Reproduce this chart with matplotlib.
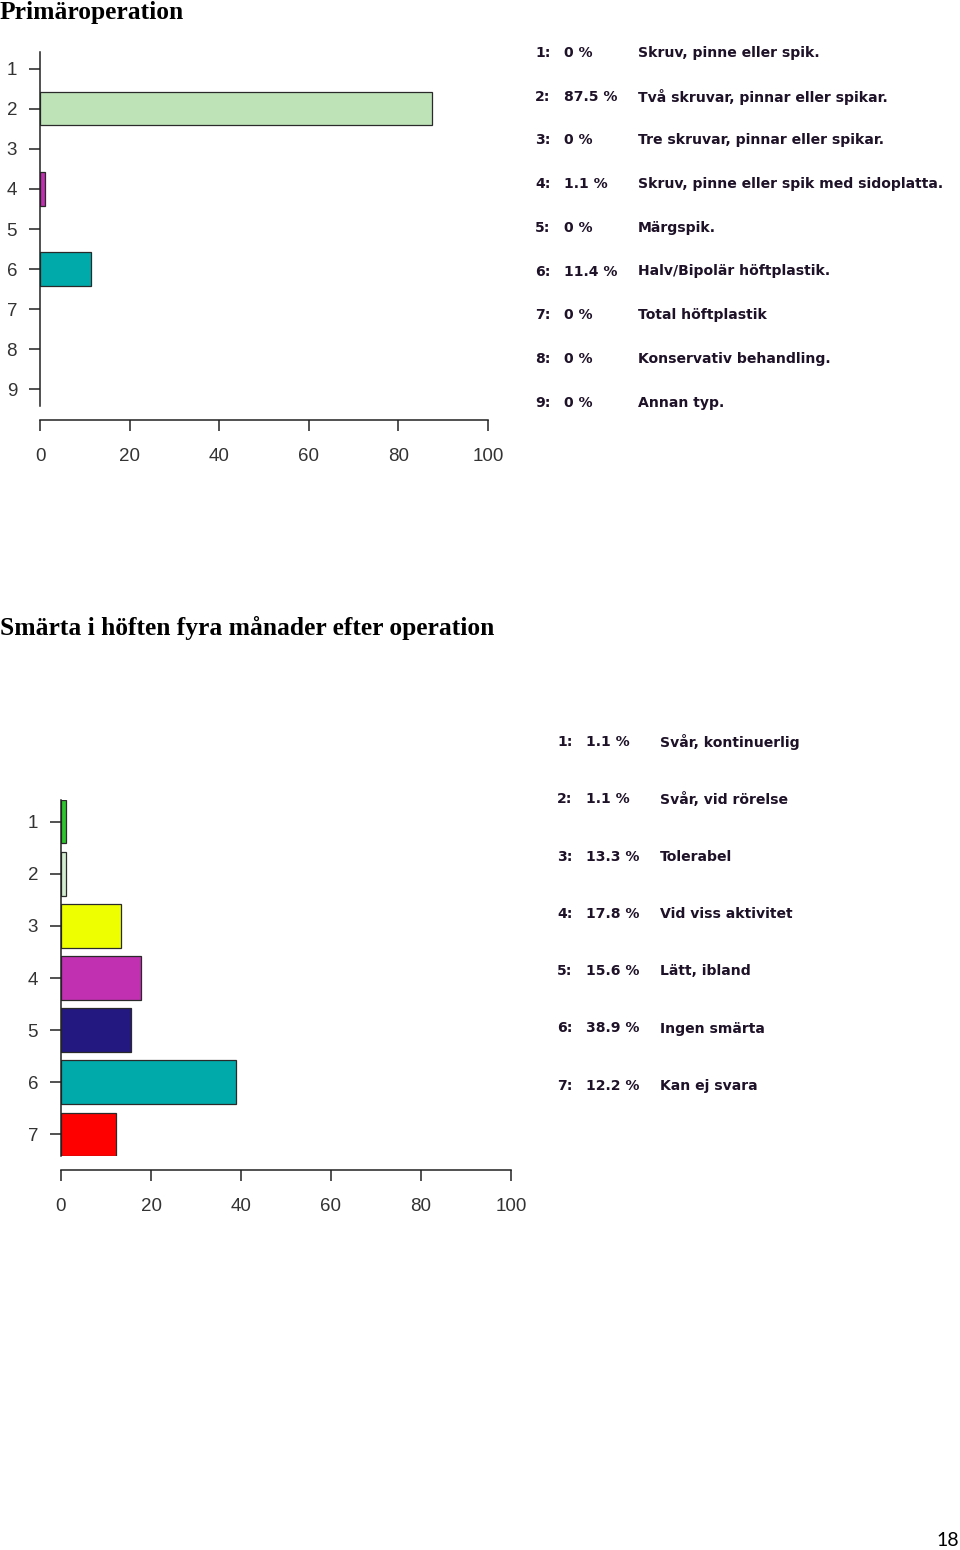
import matplotlib
matplotlib.use("Agg")
import matplotlib.pyplot as plt

W, H = 960, 1550

# Primäroperation
primar_title = "Primäroperation"
primar_labels = ["Skruv, pinne eller spik.", "Två skruvar, pinnar eller spikar.",
                 "Tre skruvar, pinnar eller spikar.", "Skruv, pinne eller spik med sidoplatta.",
                 "Märgspik.", "Halv/Bipolär höftplastik.", "Total höftplastik",
                 "Konservativ behandling.", "Annan typ."]
primar_values = [0, 87.5, 0, 1.1, 0, 11.4, 0, 0, 0]
primar_colors = ["#2ec52e", "#bde3b7", "#eeff00", "#c030b0", "#22187f",
                 "#00aaaa", "#ff0000", "#999999", "#999999"]

# Smärta i höften
smarta_title = "Smärta i höften fyra månader efter operation"
smarta_labels = ["Svår, kontinuerlig", "Svår, vid rörelse", "Tolerabel",
                 "Vid viss aktivitet", "Lätt, ibland", "Ingen smärta", "Kan ej svara"]
smarta_values = [1.1, 1.1, 13.3, 17.8, 15.6, 38.9, 12.2]
smarta_colors = ["#2ec52e", "#d4ecd0", "#eeff00", "#c030b0", "#22187f",
                 "#00aaaa", "#ff0000"]

xticks = [0, 20, 40, 60, 80, 100]

fig = plt.figure(figsize=(W / 100, H / 100), dpi=100)


def px_axes(left, top, right, bottom):
    return fig.add_axes([left / W, 1 - bottom / H, (right - left) / W, (bottom - top) / H])


def ftext(x, y, s, **kw):
    fig.text(x / W, 1 - y / H, s, **kw)


def bar_panel(box, values, colors, xaxis_gap):
    ax = px_axes(*box)
    n = len(values)
    cats = list(range(1, n + 1))
    lw = [0.9 if v > 0 else 0 for v in values]
    ax.barh(cats, values, height=1 / 1.2, color=colors, edgecolor="#2a2a2a", linewidth=lw)
    ax.set_xlim(0, 100)
    ax.set_ylim(n + 0.5 / 1.2, 1 - 0.5 / 1.2)
    ax.set_yticks(cats)
    ax.set_yticklabels([str(c) for c in cats])
    ax.set_xticks(xticks)
    ax.set_xticklabels([str(t) for t in xticks])
    for s in ["top", "right"]:
        ax.spines[s].set_visible(False)
    ax.spines["left"].set_color("#222222")
    ax.spines["left"].set_linewidth(1.1)
    ax.spines["left"].set_zorder(3)
    ax.spines["bottom"].set_color("#222222")
    ax.spines["bottom"].set_linewidth(1.1)
    ax.spines["bottom"].set_position(("outward", xaxis_gap * 0.72))
    ax.tick_params(axis="y", length=8, width=1.1, pad=8.5, color="#222222",
                   labelsize=13.5, labelcolor="#333333")
    ax.tick_params(axis="x", length=8, width=1.1, pad=12, color="#222222",
                   labelsize=13.5, labelcolor="#333333")
    for lab in ax.get_xticklabels() + ax.get_yticklabels():
        lab.set_fontfamily("Liberation Sans")
    ax.patch.set_alpha(0)
    return ax


def legend_block(x0, y0, step, values, labels):
    for i, (v, lab) in enumerate(zip(values, labels)):
        y = y0 + i * step
        kw = dict(fontsize=10.1, fontweight="bold", family="DejaVu Sans",
                  color="#1e1228", va="center", ha="left")
        ftext(x0, y, f"{i + 1}:", **kw)
        ftext(x0 + 29, y, f"{v:g} %", **kw)
        ftext(x0 + 103, y, lab, **kw)


title_kw = dict(fontsize=18.4, fontweight="bold", family="Liberation Serif",
                color="black", va="center", ha="left")

# Chart 1
ftext(0, 13, primar_title, **title_kw)
bar_panel((40, 52, 488, 406), primar_values, primar_colors, 14)
legend_block(535, 53, 43.7, primar_values, primar_labels)

# Chart 2
ftext(0, 628, smarta_title, **title_kw)
bar_panel((61, 800, 511, 1156), smarta_values, smarta_colors, 14)
legend_block(557, 742, 57.3, smarta_values, smarta_labels)

# page number
ftext(948, 1540, "18", fontsize=14, family="Lato", color="black", va="center", ha="center")

fig.savefig("out.png", dpi=100)
